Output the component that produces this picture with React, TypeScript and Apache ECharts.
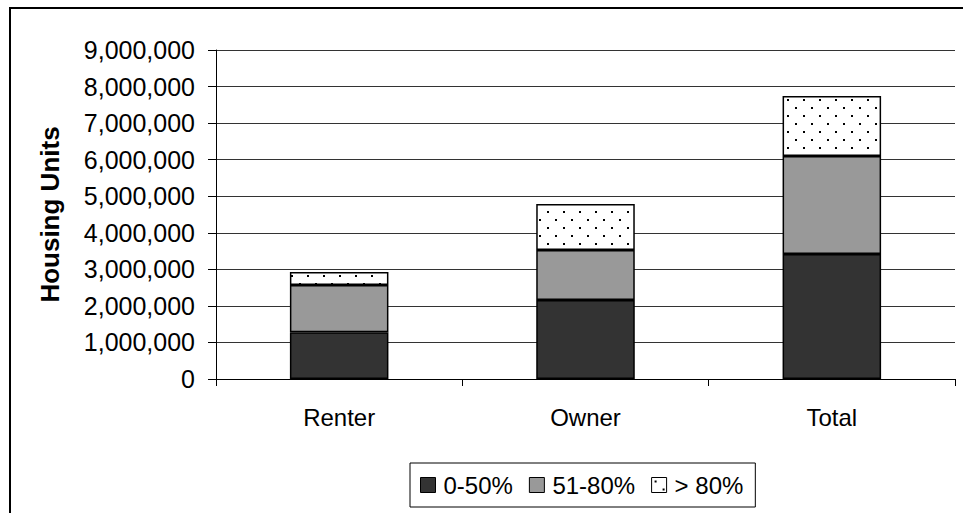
import React, { useEffect, useRef } from "react";
import * as echarts from "echarts";

const categories = ["Renter", "Owner", "Total"];
const seriesNames = ["0-50%", "51-80%", "> 80%"];
const low = [1280000, 2160000, 3420000];
const mid = [1290000, 1370000, 2680000];
const high = [360000, 1260000, 1640000];
const yTicksMax = 9000000;
const yInterval = 1000000;

const FONT = 'Arial, "Liberation Sans", sans-serif';

function makeDots(): HTMLCanvasElement {
  const c = document.createElement("canvas");
  c.width = 16;
  c.height = 16;
  const ctx = c.getContext("2d")!;
  ctx.fillStyle = "#ffffff";
  ctx.fillRect(0, 0, 16, 16);
  ctx.fillStyle = "#000000";
  ctx.fillRect(3, 3, 2, 2);
  ctx.fillRect(11, 11, 2, 2);
  return c;
}

export default function App() {
  const ref = useRef<HTMLDivElement>(null);
  useEffect(() => {
    if (!ref.current) return;
    const chart = echarts.init(ref.current, undefined, { renderer: "svg" });
    const dots = makeDots();
    const values = [low, mid, high];
    const colors: any[] = ["#333333", "#999999", { image: dots, repeat: "repeat" }];
    chart.setOption({
      animation: false,
      backgroundColor: "#ffffff",
      textStyle: { fontFamily: FONT },
      graphic: [
        {
          type: "rect",
          shape: { x: 10, y: 8, width: 970, height: 520 },
          style: { fill: "none", stroke: "#000", lineWidth: 2 },
          silent: true,
        },
      ],
      grid: { left: 216, top: 50, right: 8, bottom: 134, containLabel: false },
      legend: {
        left: 410,
        top: 463,
        padding: [10, 12, 10, 10],
        itemWidth: 15,
        itemHeight: 15,
        itemGap: 16,
        borderColor: "#000",
        borderWidth: 1,
        icon: "rect",
        itemStyle: { borderColor: "#000", borderWidth: 1 },
        textStyle: { fontSize: 24, color: "#000", fontFamily: FONT, padding: [0, 0, 0, 3] },
        data: seriesNames,
      },
      xAxis: {
        type: "category",
        data: categories,
        axisLine: { lineStyle: { color: "#000", width: 1 } },
        axisTick: { show: true, length: 7, lineStyle: { color: "#000" } },
        axisLabel: { fontSize: 24, color: "#000", margin: 26, fontFamily: FONT },
      },
      yAxis: {
        type: "value",
        min: 0,
        max: yTicksMax,
        interval: yInterval,
        name: "Housing Units",
        nameLocation: "middle",
        nameGap: 153,
        nameRotate: 90,
        nameTextStyle: { fontSize: 26, fontWeight: "bold", color: "#000", fontFamily: FONT },
        axisLine: { show: true, lineStyle: { color: "#000", width: 1 } },
        axisTick: { show: true, length: 8, lineStyle: { color: "#000" } },
        axisLabel: {
          fontSize: 25,
          color: "#000",
          margin: 21,
          fontFamily: FONT,
          formatter: (v: number) => v.toLocaleString("en-US"),
        },
        splitLine: { show: true, lineStyle: { color: "#333", width: 1 } },
      },
      series: seriesNames.map((name, i) => ({
        name,
        type: "bar",
        stack: "total",
        barWidth: "40%",
        data: values[i],
        itemStyle: { color: colors[i], borderColor: "#000", borderWidth: 1.5 },
      })),
    });
    return () => chart.dispose();
  }, []);
  return (
    <div
      ref={ref}
      style={{ position: "fixed", left: 0, top: 0, width: 963, height: 513 }}
    />
  );
}
